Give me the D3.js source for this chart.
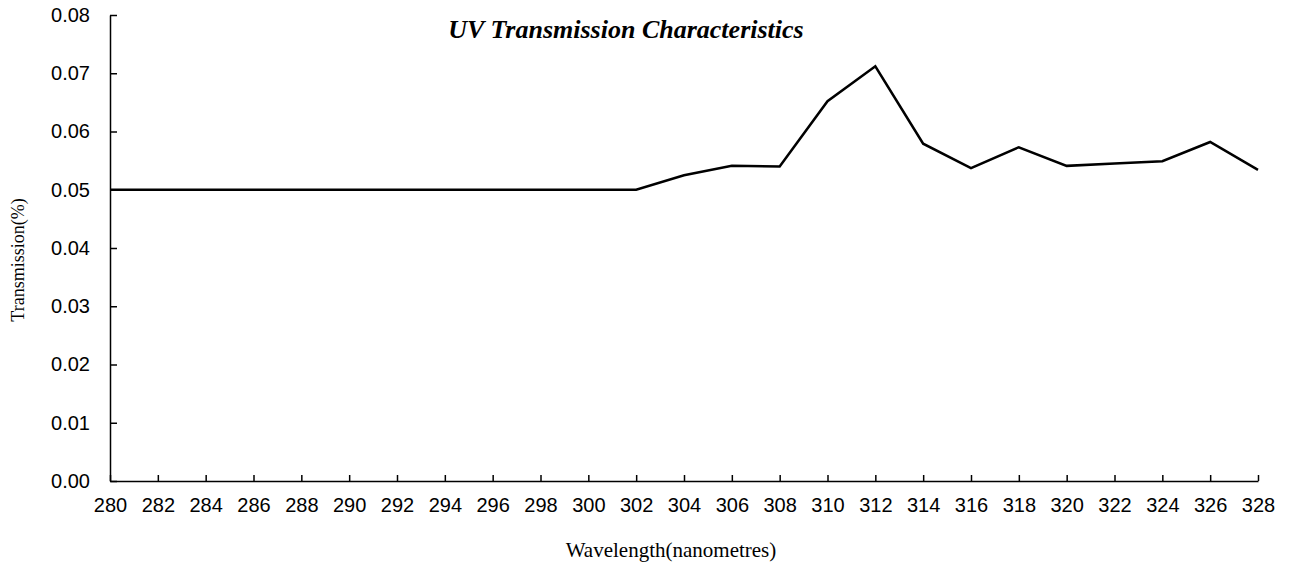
<!DOCTYPE html>
<html><head><meta charset="utf-8">
<script src="https://cdn.jsdelivr.net/npm/d3@7"></script>
<style>body{margin:0;background:#fff}svg{display:block}</style>
</head><body>
<script>
const wavelengths = [280,282,284,286,288,290,292,294,296,298,300,302,304,306,308,310,312,314,316,318,320,322,324,326,328];
const transmission = [0.05,0.05,0.05,0.05,0.05,0.05,0.05,0.05,0.05,0.05,0.05,0.05,0.0525,0.0541,0.054,0.0652,0.0712,0.0579,0.0537,0.0573,0.0541,0.0545,0.0549,0.0582,0.0534];
const yTicks = [0,0.01,0.02,0.03,0.04,0.05,0.06,0.07,0.08];
const titleText = "UV Transmission Characteristics";
const xTitle = "Wavelength(nanometres)";
const yTitle = "Transmission(%)";

const W=1290,H=565;
const svg=d3.select("body").append("svg").attr("width",W).attr("height",H);
const x=d3.scaleLinear().domain([280,328]).range([110,1258]);
const y=d3.scaleLinear().domain([0,0.08]).range([481,15]);

const xAxis=svg.append("g").attr("transform","translate(0,481)")
  .call(d3.axisBottom(x).tickValues(wavelengths).tickSizeInner(-6).tickSizeOuter(0).tickPadding(17).tickFormat(d3.format("d")));
const yAxis=svg.append("g").attr("transform","translate(110,0)")
  .call(d3.axisLeft(y).tickValues(yTicks).tickSizeInner(-7).tickSizeOuter(0).tickPadding(20).tickFormat(d3.format(".2f")));
[xAxis,yAxis].forEach(g=>{
  g.select(".domain").attr("stroke","#000").attr("stroke-width",1.5);
  g.selectAll(".tick line").attr("stroke","#000").attr("stroke-width",1.5);
  g.selectAll(".tick text").attr("fill","#000").style("font-family","'Liberation Sans',Arial,sans-serif").style("font-size","20px");
});

const line=d3.line().x((d,i)=>x(wavelengths[i])).y(d=>y(d));
svg.append("path").datum(transmission).attr("d",line).attr("fill","none").attr("stroke","#000").attr("stroke-width",2.5).attr("stroke-linejoin","miter");

svg.append("text").attr("x",626).attr("y",38).attr("text-anchor","middle")
  .style("font-family","'Liberation Serif','Times New Roman',serif").style("font-size","26px").style("font-weight","bold").style("font-style","italic")
  .text(titleText);
svg.append("text").attr("x",671).attr("y",557).attr("text-anchor","middle")
  .style("font-family","'Liberation Serif','Times New Roman',serif").style("font-size","21px").text(xTitle);
svg.append("text").attr("transform","translate(24,260) rotate(-90)").attr("text-anchor","middle")
  .style("font-family","'Liberation Serif','Times New Roman',serif").style("font-size","18px").text(yTitle);
</script>
</body></html>
